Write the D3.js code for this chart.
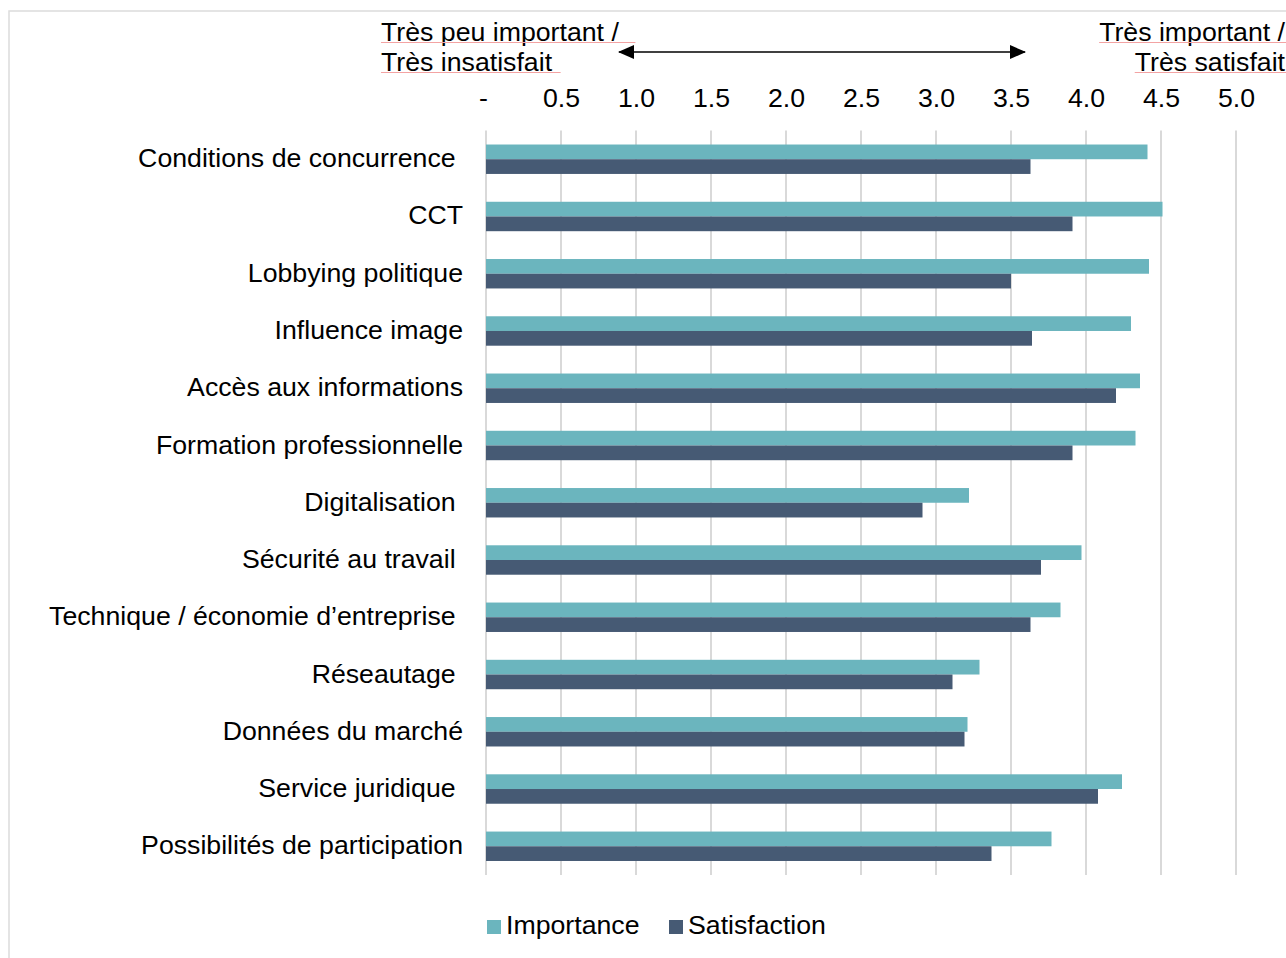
<!DOCTYPE html>
<html>
<head>
<meta charset="utf-8">
<script src="https://cdn.jsdelivr.net/npm/d3@7/dist/d3.min.js"></script>
<style>
  html, body { margin: 0; padding: 0; background: #fff; }
  svg { display: block; font-family: "Liberation Sans", Arial, Helvetica, sans-serif; }
</style>
</head>
<body>
<svg id="chart" width="1286" height="958"></svg>
<script>
// Categories (some labels carry a trailing space, as in the source table)
const categories = [
  "Conditions de concurrence\u00a0",
  "CCT",
  "Lobbying politique",
  "Influence image",
  "Accès aux informations",
  "Formation professionnelle",
  "Digitalisation\u00a0",
  "Sécurité au travail\u00a0",
  "Technique / économie d’entreprise\u00a0",
  "Réseautage\u00a0",
  "Données du marché",
  "Service juridique\u00a0",
  "Possibilités de participation"
];

const importance = [4.41, 4.51, 4.42, 4.30, 4.36, 4.33, 3.22, 3.97, 3.83, 3.29, 3.21, 4.24, 3.77];
const satisfaction = [3.63, 3.91, 3.50, 3.64, 4.20, 3.91, 2.91, 3.70, 3.63, 3.11, 3.19, 4.08, 3.37];

const seriesNames = ["Importance", "Satisfaction"];
const seriesColors = ["#6bb5be", "#465a74"];

const tickValues = [0, 0.5, 1.0, 1.5, 2.0, 2.5, 3.0, 3.5, 4.0, 4.5, 5.0];
const tickLabels = ["-", "0.5", "1.0", "1.5", "2.0", "2.5", "3.0", "3.5", "4.0", "4.5", "5.0"];

const headerLeft = ["Très peu important /", "Très insatisfait"];
const headerRight = ["Très important /", "Très satisfait"];

const rows = categories.map((c, i) => ({ cat: c, values: [importance[i], satisfaction[i]] }));

const svg = d3.select("#chart");
const FONT = 26.7;

// Outer frame
svg.append("rect")
  .attr("x", 9).attr("y", 11)
  .attr("width", 1320).attr("height", 980)
  .attr("fill", "none")
  .attr("stroke", "#dcdcdc")
  .attr("stroke-width", 1.5);

const plot = { left: 486, right: 1236, top: 130.6, bottom: 874.9 };

const x = d3.scaleLinear().domain([0, 5]).range([plot.left, plot.right]);

const y = d3.scaleBand()
  .domain(categories)
  .range([plot.top, plot.bottom])
  .paddingInner(0.486)
  .paddingOuter(0.243);

const ySub = d3.scaleBand()
  .domain(seriesNames)
  .range([0, y.bandwidth()]);

// Vertical gridlines
svg.append("g")
  .selectAll("line")
  .data(tickValues)
  .join("line")
  .attr("x1", d => x(d)).attr("x2", d => x(d))
  .attr("y1", plot.top).attr("y2", plot.bottom)
  .attr("stroke", "#d9d9d9")
  .attr("stroke-width", 2);

// Top axis labels
const axis = d3.axisTop(x)
  .tickValues(tickValues)
  .tickFormat((d, i) => tickLabels[i])
  .tickSize(0)
  .tickPadding(0);

const axisG = svg.append("g")
  .attr("transform", "translate(0,106.5)")
  .call(axis);
axisG.select(".domain").remove();
axisG.selectAll("text")
  .attr("dy", 0)
  .attr("fill", "#000")
  .style("font-size", FONT + "px")
  .style("font-family", "'Liberation Sans', Arial, sans-serif");
axisG.selectAll(".tick").filter(d => d === 0).select("text").attr("dx", -3);

// Bars
const groups = svg.append("g")
  .selectAll("g")
  .data(rows)
  .join("g")
  .attr("transform", d => `translate(0,${y(d.cat)})`);

groups.selectAll("rect")
  .data(d => d.values.map((v, k) => ({ series: seriesNames[k], value: v, k })))
  .join("rect")
  .attr("x", x(0))
  .attr("y", d => ySub(d.series))
  .attr("width", d => x(d.value) - x(0))
  .attr("height", ySub.bandwidth())
  .attr("fill", d => seriesColors[d.k]);

// Category labels
svg.append("g")
  .selectAll("text")
  .data(categories)
  .join("text")
  .attr("x", 463)
  .attr("y", d => y(d) + y.bandwidth() / 2)
  .attr("dy", "0.3em")
  .attr("text-anchor", "end")
  .style("font-size", FONT + "px")
  .style("white-space", "pre")
  .attr("fill", "#000")
  .text(d => d);

// Scale direction header
const header = svg.append("g");

function headerLine(txt, xPos, yPos, anchor, extra) {
  const t = header.append("text")
    .attr("x", xPos).attr("y", yPos)
    .attr("text-anchor", anchor)
    .style("font-size", FONT + "px")
    .attr("fill", "#000")
    .text(txt);
  const bb = t.node().getBBox();
  header.append("line")
    .attr("x1", bb.x).attr("x2", Math.min(bb.x + bb.width + extra, 1286))
    .attr("y1", yPos + 2).attr("y2", yPos + 2)
    .attr("stroke", "#f3a3a3")
    .attr("stroke-width", 1.2);
}

headerLine(headerLeft[0], 381, 40.5, "start", 16);
headerLine(headerLeft[1], 381, 70.5, "start", 8);
headerLine(headerRight[0], 1285, 40.5, "end", 10);
headerLine(headerRight[1], 1285, 70.5, "end", 10);

// Double-headed arrow between the two ends of the scale
const defs = svg.append("defs");
defs.append("marker")
  .attr("id", "arrowHead")
  .attr("viewBox", "0 0 16 14")
  .attr("refX", 15).attr("refY", 7)
  .attr("markerWidth", 16).attr("markerHeight", 14)
  .attr("markerUnits", "userSpaceOnUse")
  .attr("orient", "auto-start-reverse")
  .append("path")
  .attr("d", "M0,0 L16,7 L0,14 Z")
  .attr("fill", "#000");

svg.append("line")
  .attr("x1", 619).attr("x2", 1025)
  .attr("y1", 52).attr("y2", 52)
  .attr("stroke", "#000")
  .attr("stroke-width", 1.6)
  .attr("marker-start", "url(#arrowHead)")
  .attr("marker-end", "url(#arrowHead)");

// Legend
const legend = svg.append("g")
  .selectAll("g")
  .data(seriesNames)
  .join("g")
  .attr("transform", (d, i) => `translate(${i === 0 ? 487 : 669},920)`);

legend.append("rect")
  .attr("width", 14).attr("height", 14)
  .attr("fill", (d, i) => seriesColors[i]);

legend.append("text")
  .attr("x", 19).attr("y", 6)
  .attr("dy", "0.3em")
  .style("font-size", FONT + "px")
  .attr("fill", "#000")
  .text(d => d);
</script>
</body>
</html>
